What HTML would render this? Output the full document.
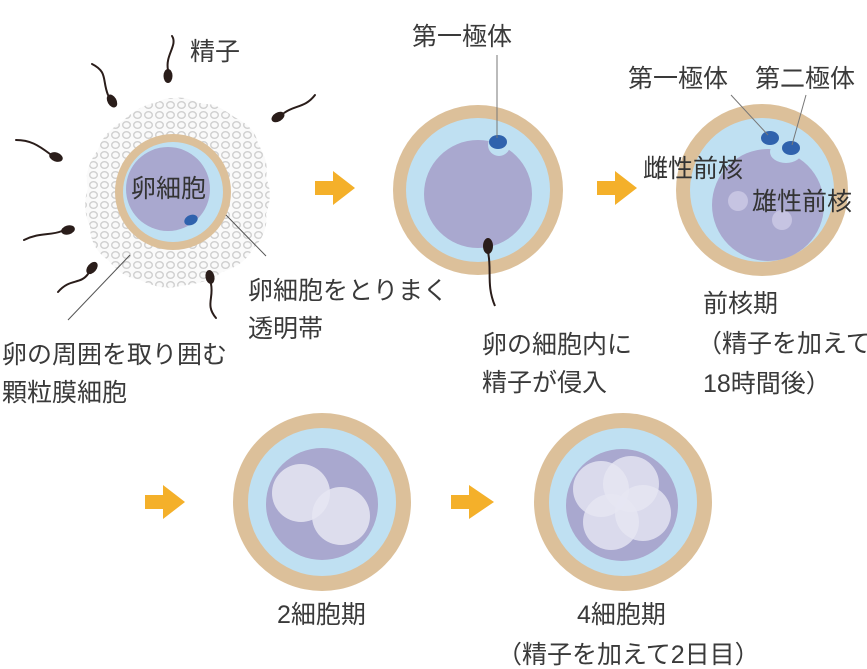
<!DOCTYPE html>
<html><head><meta charset="utf-8"><style>
html,body{margin:0;padding:0;background:#fff;}
svg{display:block}
text{font-family:"Liberation Sans","Noto Sans CJK JP",sans-serif;fill:#3a3a3a;font-size:25px}
</style></head><body>
<svg width="867" height="669" viewBox="0 0 867 669" xmlns="http://www.w3.org/2000/svg">
<defs>
<pattern id="cells" width="11" height="10" patternUnits="userSpaceOnUse">
<rect width="11" height="10" fill="#fafafa"/>
<ellipse cx="5.5" cy="5" rx="3.8" ry="3.3" fill="none" stroke="#d0d0d0" stroke-width="1.4"/>
</pattern>
</defs>
<!-- cell 1 -->
<path d="M176 98 C188 96 196 104 206 104 C218 104 226 112 236 118 C248 124 256 132 258 144 C266 156 268 166 266 178 C272 190 270 204 266 214 C268 228 262 240 252 250 C246 262 234 268 222 272 C210 282 194 284 180 286 C166 290 152 286 140 280 C126 278 116 270 108 260 C96 252 90 240 90 226 C84 214 84 200 88 188 C84 174 90 160 98 150 C102 136 112 128 124 120 C134 110 146 104 158 102 C164 98 170 98 176 98Z" fill="url(#cells)"/>
<circle cx="173" cy="192" r="58" fill="#dcc09a"/>
<circle cx="173" cy="192" r="50" fill="#bfe0f2"/>
<circle cx="168" cy="189" r="42" fill="#a9a8cf"/>
<ellipse cx="191" cy="220" rx="7" ry="5" fill="#2f62ad" transform="rotate(-25 191 220)"/>
<line x1="226" y1="215" x2="266" y2="256" stroke="#555" stroke-width="1"/>
<line x1="130" y1="255" x2="68" y2="320" stroke="#555" stroke-width="1"/>
<g fill="#2a1d1a" stroke="#2a1d1a" stroke-width="2" stroke-linecap="round">
<ellipse cx="168" cy="76" rx="4.5" ry="7" stroke="none"/><path d="M168 70 C165 55 178 45 172 36" fill="none"/>
<ellipse cx="112" cy="101" rx="4.5" ry="7" stroke="none" transform="rotate(-30 112 101)"/><path d="M108 95 C102 80 108 72 92 64" fill="none"/>
<ellipse cx="56" cy="157" rx="7" ry="4.5" stroke="none" transform="rotate(20 56 157)"/><path d="M50 154 C38 145 30 140 16 140" fill="none"/>
<ellipse cx="68" cy="230" rx="7" ry="4.5" stroke="none" transform="rotate(-15 68 230)"/><path d="M62 231 C50 236 40 232 24 240" fill="none"/>
<ellipse cx="92" cy="268" rx="4.5" ry="7" stroke="none" transform="rotate(40 92 268)"/><path d="M88 274 C80 285 70 278 58 292" fill="none"/>
<ellipse cx="210" cy="277" rx="4.5" ry="7" stroke="none" transform="rotate(-10 210 277)"/><path d="M211 284 C214 298 205 305 216 318" fill="none"/>
<ellipse cx="278" cy="117" rx="7" ry="4.5" stroke="none" transform="rotate(-30 278 117)"/><path d="M284 113 C295 105 305 108 315 95" fill="none"/>
</g>
<text x="190" y="60">精子</text>
<text x="131" y="197" style="fill:#333">卵細胞</text>
<text x="248" y="299">卵細胞をとりまく</text>
<text x="248" y="337">透明帯</text>
<text x="2" y="363">卵の周囲を取り囲む</text>
<text x="2" y="401">顆粒膜細胞</text>
<!-- arrows -->
<g fill="#f4b02a">
<path d="M315 181 h18 v-10 l22 17 -22 17 v-10 h-18z"/>
<path d="M597 181 h18 v-10 l22 17 -22 17 v-10 h-18z"/>
<path d="M145 495 h18 v-10 l22 17 -22 17 v-10 h-18z"/>
<path d="M451 495 h18 v-10 l25 17 -25 17 v-10 h-18z"/>
</g>
<!-- cell 2 -->
<circle cx="478" cy="190" r="85" fill="#dcc09a"/>
<circle cx="478" cy="190" r="72" fill="#bfe0f2"/>
<circle cx="478" cy="194" r="54" fill="#a9a8cf"/>
<circle cx="499" cy="145" r="11" fill="#bfe0f2"/>
<ellipse cx="498" cy="142" rx="9" ry="7" fill="#2f62ad"/>
<line x1="497" y1="55" x2="497" y2="138" stroke="#777" stroke-width="1"/>
<text x="412" y="45">第一極体</text>
<ellipse cx="488" cy="246" rx="5" ry="8" fill="#2a1d1a"/>
<path d="M488 252 C492 270 486 285 495 306" fill="none" stroke="#2a1d1a" stroke-width="2"/>
<text x="482" y="353">卵の細胞内に</text>
<text x="482" y="391">精子が侵入</text>
<!-- cell 3 -->
<circle cx="762" cy="190" r="86" fill="#dcc09a"/>
<circle cx="762" cy="190" r="72" fill="#bfe0f2"/>
<circle cx="768" cy="205" r="56" fill="#a9a8cf"/>
<ellipse cx="786" cy="152" rx="16" ry="11" fill="#bfe0f2"/>
<ellipse cx="770" cy="138" rx="9" ry="7" fill="#2f62ad"/>
<ellipse cx="791" cy="148" rx="9" ry="7" fill="#2f62ad"/>
<line x1="731" y1="95" x2="768" y2="135" stroke="#777" stroke-width="1"/>
<line x1="806" y1="95" x2="792" y2="145" stroke="#777" stroke-width="1"/>
<circle cx="738" cy="201" r="10" fill="#c6c4e2"/>
<circle cx="782" cy="220" r="10" fill="#c6c4e2"/>
<text x="628" y="87">第一極体</text>
<text x="755" y="87">第二極体</text>
<text x="643" y="177" style="fill:#333">雌性前核</text>
<text x="752" y="210" style="fill:#333">雄性前核</text>
<text x="703" y="312">前核期</text>
<text x="697" y="352">（精子を加えて</text>
<text x="703" y="392">18時間後）</text>
<!-- cell 4 -->
<circle cx="322" cy="502" r="89" fill="#dcc09a"/>
<circle cx="322" cy="502" r="74" fill="#bfe0f2"/>
<circle cx="322" cy="504" r="56" fill="#a9a8cf"/>
<g fill="#e6e6f2" fill-opacity="0.85">
<circle cx="301" cy="493" r="29"/>
<circle cx="341" cy="516" r="29"/>
</g>
<text x="277" y="623">2細胞期</text>
<!-- cell 5 -->
<circle cx="623" cy="502" r="89" fill="#dcc09a"/>
<circle cx="623" cy="502" r="74" fill="#bfe0f2"/>
<circle cx="622" cy="505" r="56" fill="#a9a8cf"/>
<g fill="#e6e6f2" fill-opacity="0.8">
<circle cx="601" cy="489" r="28"/>
<circle cx="631" cy="484" r="28"/>
<circle cx="643" cy="513" r="28"/>
<circle cx="611" cy="522" r="28"/>
</g>
<text x="577" y="623">4細胞期</text>
<text x="497" y="663">（精子を加えて2日目）</text>
</svg>
</body></html>
